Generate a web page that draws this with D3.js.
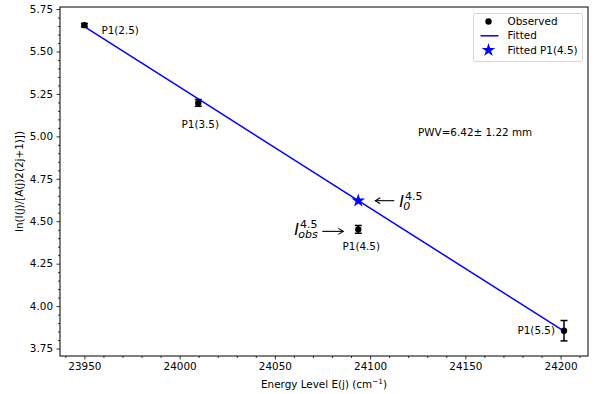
<!DOCTYPE html>
<html>
<head>
<meta charset="utf-8">
<script src="https://cdn.jsdelivr.net/npm/d3@7"></script>
<style>
  body { margin: 0; background: #fff; }
  svg { display: block; font-family: "DejaVu Sans", sans-serif; }
</style>
</head>
<body>
<div id="chart"></div>
<script>
"use strict";

// values
const levels = ["P1(2.5)", "P1(3.5)", "P1(4.5)", "P1(5.5)"];
const energy = [23950, 24009.8, 24093.8, 24201.8];
const observed = [5.655, 5.197, 4.452, 3.855];
const errors = [0.01, 0.02, 0.023, 0.06];
const fitted = [5.646, 5.221, 4.621, 3.853];
const xTicks = [23950, 24000, 24050, 24100, 24150, 24200];
const yTicks = [3.75, 4.0, 4.25, 4.5, 4.75, 5.0, 5.25, 5.5, 5.75];
const pwvText = "PWV=6.42\u00b1 1.22 mm";
const legendItems = ["Observed", "Fitted", "Fitted P1(4.5)"];

const w = 596;
const h = 394;
const margin = { top: 7, right: 8, bottom: 38, left: 60 };
const innerWidth = w - margin.left - margin.right;
const innerHeight = h - margin.top - margin.bottom;

const svg = d3.select("#chart").append("svg").attr("width", w).attr("height", h);
const g = svg.append("g").attr("transform", `translate(${margin.left}, ${margin.top})`);

const xScale = d3.scaleLinear().domain([23937.2, 24214.4]).range([0, innerWidth]);
const yScale = d3.scaleLinear().domain([3.706, 5.762]).range([innerHeight, 0]);

const data = levels.map((name, i) => ({
  name,
  e: energy[i],
  obs: observed[i],
  err: errors[i],
  fit: fitted[i],
}));

//minor ticks (no labels)
const xMinor = d3.range(23940, 24214, 10).filter((v) => !xTicks.includes(v));
const yMinor = d3.range(3.75, 5.76, 0.05).map((v) => +v.toFixed(2)).filter((v) => !yTicks.includes(v));

g.append("g")
  .attr("transform", `translate(0, ${innerHeight})`)
  .call(d3.axisBottom(xScale).tickValues(xMinor).tickSize(2).tickFormat(""))
  .call((s) => s.select(".domain").remove())
  .call((s) => s.selectAll("text").remove());
g.append("g")
  .call(d3.axisLeft(yScale).tickValues(yMinor).tickSize(2).tickFormat(""))
  .call((s) => s.select(".domain").remove())
  .call((s) => s.selectAll("text").remove());

//major axes
g.append("g")
  .attr("transform", `translate(0, ${innerHeight})`)
  .call(d3.axisBottom(xScale).tickValues(xTicks).tickSize(3.5).tickPadding(3.5).tickFormat(d3.format("d")))
  .call((s) => s.select(".domain").remove());
g.append("g")
  .call(d3.axisLeft(yScale).tickValues(yTicks).tickSize(3.5).tickPadding(3.5).tickFormat(d3.format(".2f")))
  .call((s) => s.select(".domain").remove());

svg.selectAll(".tick text").attr("font-size", 10.4).attr("fill", "#000").attr("font-family", "DejaVu Sans");
svg.selectAll(".tick line").attr("stroke", "#000").attr("stroke-width", 0.8);

//frame
g.append("rect")
  .attr("width", innerWidth)
  .attr("height", innerHeight)
  .attr("fill", "none")
  .attr("stroke", "#000")
  .attr("stroke-width", 1);

//axis labels
svg.append("text")
  .attr("x", margin.left + innerWidth / 2)
  .attr("y", 388)
  .attr("text-anchor", "middle")
  .attr("font-size", 10.4)
  .html('Energy Level E(j) (cm<tspan dy="-4" font-size="7.3">\u22121</tspan><tspan dy="4">)</tspan>');

svg.append("text")
  .attr("transform", `translate(23, ${margin.top + innerHeight / 2}) rotate(-90)`)
  .attr("text-anchor", "middle")
  .attr("font-size", 10.4)
  .text("ln(I(j)/[A(j)2(2j+1)])");

//fitted line
const line = d3
  .line()
  .x((d) => xScale(d.e))
  .y((d) => yScale(d.fit));
g.append("path")
  .datum(data)
  .attr("d", line)
  .attr("fill", "none")
  .attr("stroke", "#0000ff")
  .attr("stroke-width", 1.5);

//error bars
const bars = g.append("g").attr("stroke", "#000").attr("stroke-width", 1.5);
data.forEach((d) => {
  const x = xScale(d.e);
  const y0 = yScale(d.obs - d.err);
  const y1 = yScale(d.obs + d.err);
  bars.append("line").attr("x1", x).attr("x2", x).attr("y1", y0).attr("y2", y1);
  bars.append("line").attr("x1", x - 3.5).attr("x2", x + 3.5).attr("y1", y0).attr("y2", y0);
  bars.append("line").attr("x1", x - 3.5).attr("x2", x + 3.5).attr("y1", y1).attr("y2", y1);
});

g.selectAll("circle.obs")
  .data(data)
  .enter()
  .append("circle")
  .attr("class", "obs")
  .attr("cx", (d) => xScale(d.e))
  .attr("cy", (d) => yScale(d.obs))
  .attr("r", 3.2)
  .attr("fill", "#000");

//fitted star for P1(4.5)
const star = data[2];
const starX = xScale(star.e);
const starY = yScale(star.fit);
g.append("path")
  .attr("d", d3.symbol().type(d3.symbolStar).size(58)())
  .attr("transform", `translate(${starX}, ${starY})`)
  .attr("fill", "#0000ff");

//point labels
const labelOffsets = [
  { dx: 17, dy: 5, anchor: "start" },
  { dx: 2, dy: 21, anchor: "middle" },
  { dx: 3, dy: 17, anchor: "middle" },
  { dx: -9, dy: 0, anchor: "end" },
];
g.selectAll("text.lbl")
  .data(data)
  .enter()
  .append("text")
  .attr("class", "lbl")
  .attr("x", (d, i) => xScale(d.e) + labelOffsets[i].dx)
  .attr("y", (d, i) => yScale(d.obs) + labelOffsets[i].dy)
  .attr("dy", "0.35em")
  .attr("text-anchor", (d, i) => labelOffsets[i].anchor)
  .attr("font-size", 10.4)
  .text((d) => d.name);

//PWV text
g.append("text")
  .attr("x", 418 - margin.left)
  .attr("y", 132 - margin.top)
  .attr("dy", "0.35em")
  .attr("font-size", 10.4)
  .text(pwvText);

//arrows
const arrow = (x1, y, x2) => {
  const dir = Math.sign(x2 - x1);
  const a = g.append("g").attr("stroke", "#000").attr("stroke-width", 1.1).attr("fill", "none");
  a.append("line").attr("x1", x1).attr("x2", x2).attr("y1", y).attr("y2", y);
  a.append("path").attr("d", `M${x2 - dir * 5},${y - 3}L${x2},${y}L${x2 - dir * 5},${y + 3}`);
};
arrow(starX + 36, starY, starX + 17);
const obsX = xScale(star.e);
const obsY = yScale(star.obs);
arrow(obsX - 36, obsY + 2, obsX - 15);

//math labels: italic I with superscript 4.5 and a subscript, in one text
const mathLabel = (x, y, sub) => {
  const t = g.append("text").attr("x", x).attr("y", y).attr("font-size", 16);
  t.append("tspan").attr("font-style", "italic").text("I");
  t.append("tspan").attr("font-size", 11).attr("dy", -7).attr("dx", 1).text("4.5");
  t.append("tspan")
    .attr("x", x + 4)
    .attr("dy", 10)
    .attr("font-size", 11)
    .attr("font-style", "italic")
    .text(sub);
};
mathLabel(starX + 41, starY + 6, "0");
mathLabel(obsX - 64, obsY + 6, "obs");

//legend
const legend = svg.append("g").attr("transform", "translate(473.5, 13.5)");
legend
  .append("rect")
  .attr("width", 109)
  .attr("height", 48)
  .attr("rx", 2)
  .attr("fill", "#fff")
  .attr("fill-opacity", 0.8)
  .attr("stroke", "#ccc")
  .attr("stroke-width", 0.8);
legendItems.forEach((name, i) => {
  const y = 8 + i * 14.3;
  if (i === 0) {
    legend.append("circle").attr("cx", 15).attr("cy", y).attr("r", 3.2).attr("fill", "#000");
  } else if (i === 1) {
    legend
      .append("line")
      .attr("x1", 7)
      .attr("x2", 25)
      .attr("y1", y)
      .attr("y2", y)
      .attr("stroke", "#0000ff")
      .attr("stroke-width", 1.5);
  } else {
    legend
      .append("path")
      .attr("d", d3.symbol().type(d3.symbolStar).size(58)())
      .attr("transform", `translate(15, ${y})`)
      .attr("fill", "#0000ff");
  }
  legend
    .append("text")
    .attr("x", 34)
    .attr("y", y)
    .attr("dy", "0.35em")
    .attr("font-size", 10.4)
    .text(name);
});
</script>
</body>
</html>
